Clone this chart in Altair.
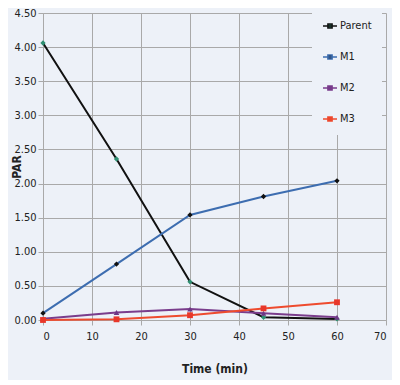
import altair as alt
import pandas as pd

time_min = [0, 15, 30, 45, 60]
series_names = ["Parent", "M1", "M2", "M3"]
parent = [4.06, 2.36, 0.56, 0.04, 0.015]
m1 = [0.10, 0.82, 1.54, 1.81, 2.04]
m2 = [0.02, 0.11, 0.16, 0.10, 0.04]
m3 = [0.00, 0.01, 0.07, 0.17, 0.26]

line_colors = ["#111111", "#3d6db0", "#7a3d8c", "#ee4b2e"]
marker_colors = ["#2f8f72", "#111111", "#6e3785", "#e8372a"]
marker_shapes = ["diamond", "diamond", "triangle-up", "square"]
marker_sizes = [28, 28, 32, 34]

rows = []
for name, vals in zip(series_names, [parent, m1, m2, m3]):
    for t, v in zip(time_min, vals):
        rows.append({"Time": t, "PAR": v, "Series": name})
df = pd.DataFrame(rows)

FONT = "DejaVu Sans Condensed, Liberation Sans Narrow, Liberation Sans, sans-serif"
BG = "#edf1f8"
LEGEND_SYMBOL = "M-1,0H1M-0.3,-0.3H0.3V0.3H-0.3Z"

x = alt.X("Time:Q", title="Time (min)",
          scale=alt.Scale(domain=[0, 70], nice=False),
          axis=alt.Axis(values=list(range(0, 71, 10)), format="d"))
y = alt.Y("PAR:Q", title="PAR",
          scale=alt.Scale(domain=[0, 4.5], nice=False),
          axis=alt.Axis(values=[i * 0.5 for i in range(10)], format=".2f",
                        titleX=-27, titleBaseline="middle"))

legend = alt.Legend(title=None, orient="none", legendX=269, legendY=-5,
                    padding=10, rowPadding=17, labelOffset=2,
                    symbolSize=196, symbolStrokeWidth=1.5,
                    symbolType=LEGEND_SYMBOL, fillColor=BG)

stroke_enc = alt.Stroke("Series:N", sort=series_names,
                        scale=alt.Scale(domain=series_names, range=line_colors),
                        legend=legend)
fill_enc = alt.Fill("Series:N", sort=series_names,
                    scale=alt.Scale(domain=series_names, range=marker_colors),
                    legend=legend)

lines = alt.Chart(df).mark_line(strokeWidth=2).encode(
    x=x, y=y, stroke=stroke_enc, order="Time:Q",
)

point_layers = []
for name, shp, sz in zip(series_names, marker_shapes, marker_sizes):
    point_layers.append(
        alt.Chart(df).transform_filter(alt.datum.Series == name)
        .mark_point(filled=True, size=sz, opacity=1, shape=shp)
        .encode(x=x, y=y, fill=fill_enc)
    )

chart = alt.layer(lines, *point_layers).properties(
    width=343, height=307,
    background=BG,
    autosize=alt.AutoSizeParams(type="none"),
    padding={"left": 35, "top": 5, "right": 6, "bottom": 60},
).configure_view(
    fill=BG, stroke=None
).configure_axis(
    labelFont=FONT, titleFont=FONT, labelFontSize=11, titleFontSize=12,
    labelColor="#222222", titleColor="#222222", titleFontWeight="bold",
    gridColor="#a9a9a9", gridWidth=1, domainColor="#a9a9a9", tickColor="#a9a9a9",
    tickSize=5, labelPadding=2,
).configure_axisX(
    labelPadding=5, titlePadding=22,
).configure_legend(
    labelFont=FONT, labelFontSize=11, labelColor="#222222",
)

chart.save("out.html", embed_options={"renderer": "svg", "actions": False})
